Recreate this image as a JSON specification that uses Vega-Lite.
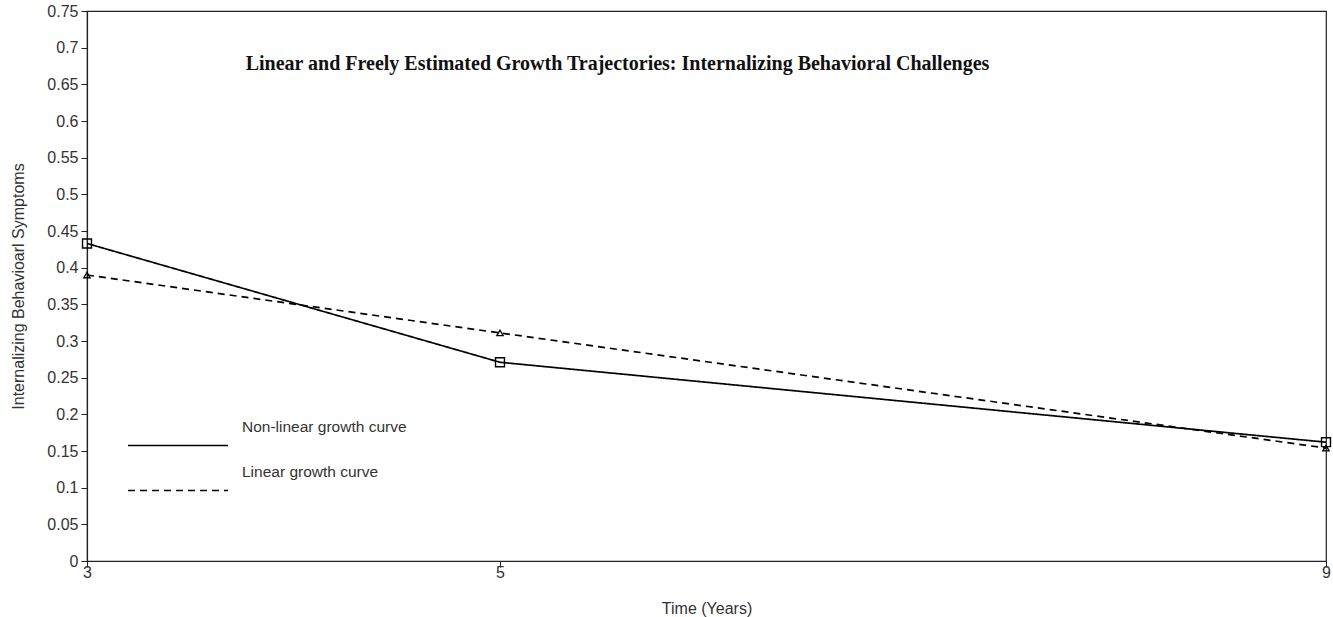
{
  "$schema": "https://vega.github.io/schema/vega-lite/v6.json",
  "width": 1239,
  "height": 550,
  "autosize": {"type": "none"},
  "padding": {"left": 87, "top": 11, "right": 7, "bottom": 56},
  "background": "white",
  "config": {
    "view": {"stroke": "#222", "strokeWidth": 1.2},
    "font": "Liberation Sans",
    "axis": {"domainColor": "#222", "tickColor": "#222", "labelColor": "#333", "titleColor": "#333", "grid": false, "labelFont": "Liberation Sans", "titleFont": "Liberation Sans", "labelFontSize": 16, "titleFontSize": 16, "titleFontWeight": "normal"}
  },
  "title": {
    "text": "Linear and Freely Estimated Growth Trajectories: Internalizing Behavioral Challenges",
    "font": "Liberation Serif",
    "fontSize": 20,
    "fontWeight": "bold",
    "color": "#111",
    "anchor": "middle",
    "dx": -89,
    "dy": 75
  },
  "data": {
    "values": [
      {"time": 3, "value": 0.433, "series": "Non-linear growth curve"},
      {"time": 5, "value": 0.271, "series": "Non-linear growth curve"},
      {"time": 9, "value": 0.162, "series": "Non-linear growth curve"},
      {"time": 3, "value": 0.39, "series": "Linear growth curve"},
      {"time": 5, "value": 0.311, "series": "Linear growth curve"},
      {"time": 9, "value": 0.154, "series": "Linear growth curve"}
    ]
  },
  "encoding": {
    "x": {
      "field": "time", "type": "quantitative",
      "scale": {"domain": [3, 9], "nice": false, "zero": false},
      "axis": {"values": [3, 5, 9], "title": "Time (Years)", "tickSize": 6, "labelPadding": -3, "labelDx": -4, "labelFlush": false, "titlePadding": 20, "domainWidth": 1.2}
    },
    "y": {
      "field": "value", "type": "quantitative",
      "scale": {"domain": [0, 0.75], "nice": false},
      "axis": {"values": [0, 0.05, 0.1, 0.15, 0.2, 0.25, 0.3, 0.35, 0.4, 0.45, 0.5, 0.55, 0.6, 0.65, 0.7, 0.75], "format": ".2~f", "title": "Internalizing Behavioarl Symptoms", "tickSize": 6, "labelPadding": 3, "titlePadding": 20, "domainWidth": 1.2}
    }
  },
  "layer": [
    {
      "mark": {"type": "line", "color": "black", "strokeWidth": 1.7},
      "encoding": {
        "strokeDash": {
          "field": "series", "type": "nominal",
          "scale": {"domain": ["Non-linear growth curve", "Linear growth curve"], "range": [[1, 0], [7, 5]]},
          "legend": {
            "title": null,
            "orient": "none",
            "legendX": 40,
            "legendY": 416,
            "padding": 0,
            "symbolType": "stroke",
            "symbolSize": 10000,
            "symbolStrokeWidth": 1.5,
            "symbolStrokeColor": "black",
            "labelFontSize": 15.5,
            "labelColor": "#333",
            "labelOffset": 13,
            "labelLimit": 400,
            "rowPadding": 0,
            "clipHeight": 37,
            "encode": {
              "symbols": {"update": {"shape": {"value": "stroke"}, "size": {"value": 10000}, "stroke": {"value": "black"}, "strokeWidth": {"value": 1.5}}},
              "labels": {"update": {"dy": {"value": -19}}}
            }
          }
        }
      }
    },
    {
      "transform": [{"filter": "datum.series === 'Non-linear growth curve'"}],
      "mark": {"type": "point", "color": "black", "filled": false, "strokeWidth": 1.4, "opacity": 1, "shape": "square", "size": 80}
    },
    {
      "transform": [{"filter": "datum.series === 'Linear growth curve'"}],
      "mark": {"type": "point", "color": "black", "filled": false, "strokeWidth": 1.3, "opacity": 1, "shape": "triangle-up", "size": 40}
    }
  ]
}
